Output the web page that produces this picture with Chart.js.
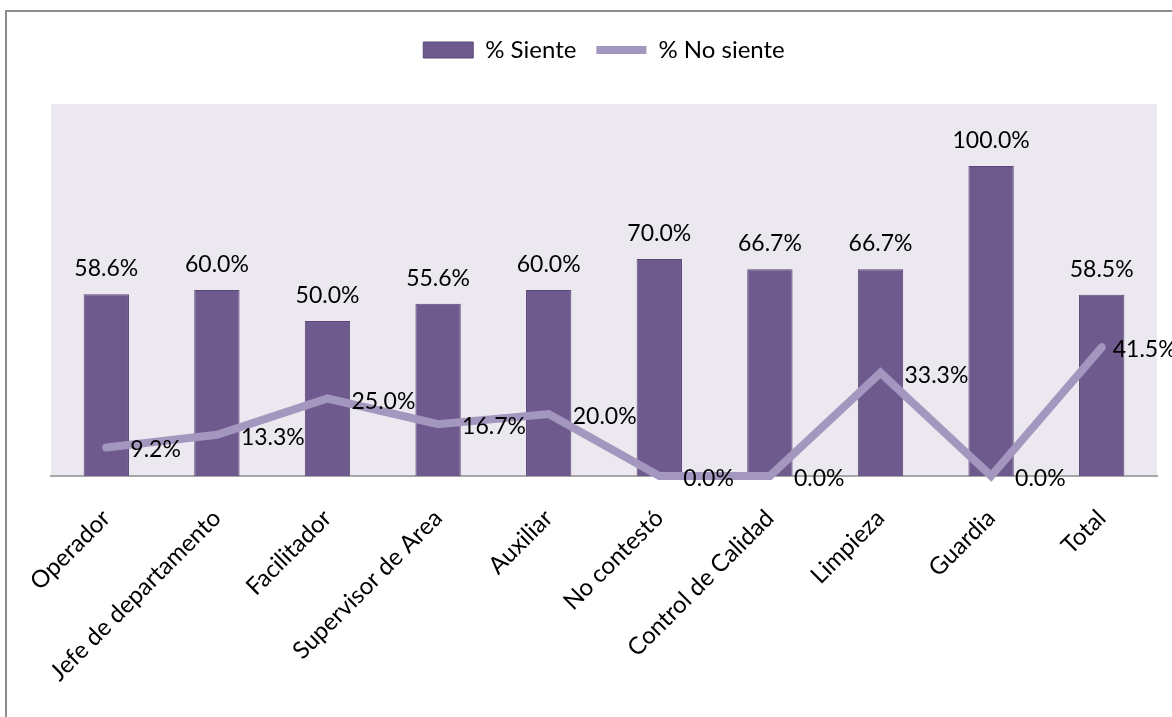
<!DOCTYPE html>
<html>
<head>
<meta charset="utf-8">
<script src="https://cdn.jsdelivr.net/npm/chart.js@4.4.1/dist/chart.umd.min.js"></script>
<style>
  html, body { margin: 0; padding: 0; background: #fff; overflow: hidden; }
  #wrap { position: relative; width: 1172px; height: 717px; }
  #frame { position: absolute; left: 5px; top: 10px; width: 1200px; height: 760px;
           border: 2px solid #8c8c8c; pointer-events: none; }
  canvas { position: absolute; left: 0; top: 0; }
</style>
</head>
<body>
<div id="wrap">
  <canvas id="chart1" width="1172" height="717"></canvas>
  <div id="frame"></div>
</div>
<script>
// categories and values
var categories = ['Operador', 'Jefe de departamento', 'Facilitador', 'Supervisor de Area',
  'Auxiliar', 'No contestó', 'Control de Calidad', 'Limpieza', 'Guardia', 'Total'];
var siente = [58.6, 60.0, 50.0, 55.6, 60.0, 70.0, 66.7, 66.7, 100.0, 58.5];
var noSiente = [9.2, 13.3, 25.0, 16.7, 20.0, 0.0, 0.0, 33.3, 0.0, 41.5];
var seriesNames = ['% Siente', '% No siente'];

var FONT = 'Lato, Carlito, Calibri, sans-serif';

// gray plot background
var plotBg = {
  id: 'plotBg',
  beforeDraw: function (chart) {
    var a = chart.chartArea, ctx = chart.ctx;
    ctx.save();
    ctx.fillStyle = '#EBE9EF';
    ctx.fillRect(a.left, a.top, a.right - a.left, a.bottom - a.top);
    ctx.restore();
  }
};

// value labels (bars: above, line: right of point)
var valueLabels = {
  id: 'valueLabels',
  afterDatasetsDraw: function (chart) {
    var ctx = chart.ctx;
    ctx.save();
    ctx.font = '23px ' + FONT;
    ctx.fillStyle = '#000';
    ctx.textBaseline = 'alphabetic';
    chart.data.datasets.forEach(function (ds, i) {
      var meta = chart.getDatasetMeta(i);
      meta.data.forEach(function (el, j) {
        var txt = ds.data[j].toFixed(1) + '%';
        if (ds.type === 'bar') {
          ctx.textAlign = 'center';
          ctx.fillText(txt, el.x, el.y - 18);
        } else {
          var w = ctx.measureText(txt).width;
          var x = el.x + 24;
          if (x + w > chart.width + 4) x = el.x + 11; // pulled in like excel
          ctx.textAlign = 'left';
          ctx.fillText(txt, x, el.y + 10);
        }
      });
    });
    ctx.restore();
  }
};

var ctx1 = document.getElementById('chart1');
new Chart(ctx1, {
  data: {
    labels: categories,
    datasets: [{
      type: 'bar',
      label: seriesNames[0],
      data: siente,
      backgroundColor: '#6F5A8E',
      borderColor: '#5C4878',
      borderWidth: 1,
      categoryPercentage: 1,
      barPercentage: 0.41,
      pointStyle: 'rect',
      order: 2
    }, {
      type: 'line',
      label: seriesNames[1],
      data: noSiente,
      borderColor: '#A497BF',
      backgroundColor: '#A497BF',
      borderWidth: 8,
      borderCapStyle: 'round',
      pointRadius: 0,
      pointStyle: 'line',
      tension: 0,
      clip: false,
      order: 1
    }]
  },
  options: {
    responsive: false,
    animation: false,
    layout: { padding: { top: 18, left: 51, right: 15, bottom: 0 } },
    plugins: {
      tooltip: { enabled: false },
      // empty title used as a spacer between legend and plot
      title: {
        display: true, text: '', weight: 500,
        font: { size: 10, lineHeight: 1 }, padding: { top: 0, bottom: 22 }
      },
      legend: {
        position: 'top',
        labels: {
          usePointStyle: true,
          pointStyleWidth: 50,
          boxHeight: 16,
          padding: 20,
          color: '#000',
          font: { family: FONT, size: 24 },
          sort: function (a, b) { return a.datasetIndex - b.datasetIndex; }
        }
      }
    },
    scales: {
      x: {
        offset: true,
        grid: { display: false, drawTicks: false },
        border: { display: true, color: '#A6A6A6', width: 2 },
        ticks: {
          minRotation: 45, maxRotation: 45, padding: 28, color: '#000',
          font: { family: FONT, size: 24 }
        },
        afterFit: function (scale) { scale.height = 241; }
      },
      y: {
        display: false,
        min: 0, max: 120
      }
    }
  },
  plugins: [plotBg, valueLabels]
});
</script>
</body>
</html>
